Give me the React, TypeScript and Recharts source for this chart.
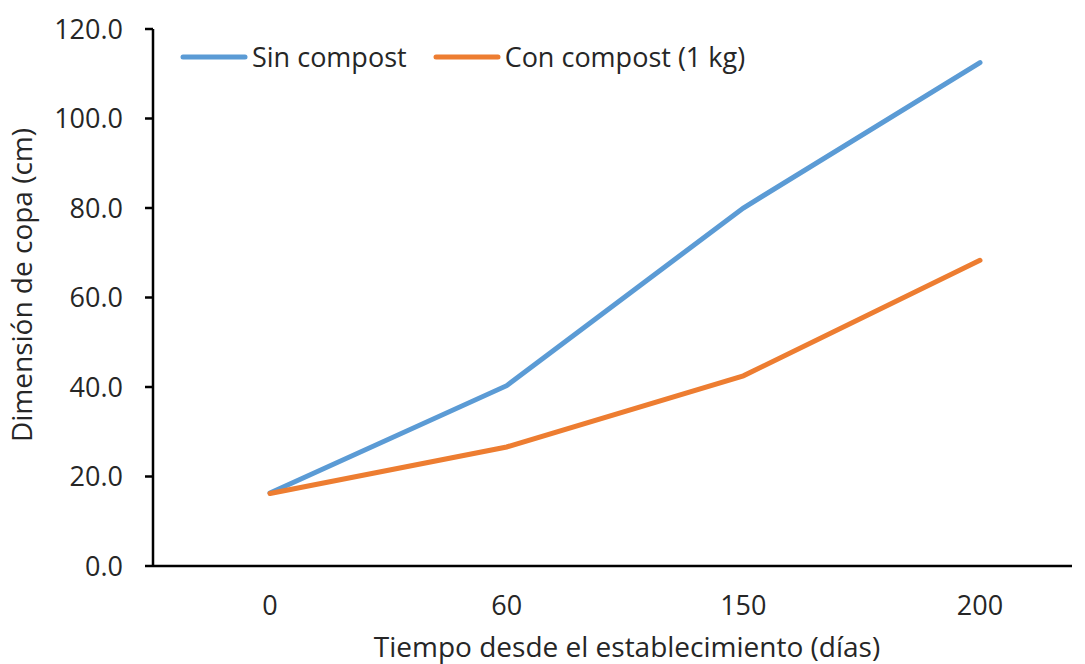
import { LineChart, Line, XAxis, YAxis, Legend, Label } from "recharts";

const dias = ["0", "60", "150", "200"];
const sinCompost = [16.3, 40.3, 80.0, 112.5];
const conCompost = [16.2, 26.6, 42.5, 68.3];
const yTicks = [0, 20, 40, 60, 80, 100, 120];
const legendOrder = ["Sin compost", "Con compost (1 kg)"];

const data = dias.map((d, i) => ({
  dia: d,
  sin: sinCompost[i],
  con: conCompost[i],
}));

const FONT = "'Open Sans', sans-serif";
const TEXT = "#262626";

const renderLegend = (props: any) => {
  const items = [...(props.payload || [])].sort(
    (a: any, b: any) => legendOrder.indexOf(a.value) - legendOrder.indexOf(b.value)
  );
  return (
    <div style={{ display: "flex", alignItems: "center", fontFamily: FONT, fontSize: 27, color: TEXT }}>
      {items.map((entry: any, index: number) => (
        <div key={index} style={{ display: "flex", alignItems: "center", marginRight: 26 }}>
          <svg width={68} height={10} style={{ marginRight: 4 }}>
            <line x1={3} y1={5} x2={65} y2={5} stroke={entry.color} strokeWidth={5} strokeLinecap="round" />
          </svg>
          <span>{entry.value}</span>
        </div>
      ))}
    </div>
  );
};

export default function App() {
  return (
    <div style={{ width: 1085, height: 664, background: "#fff" }}>
      <style>{`body{margin:0}`}</style>
      <LineChart width={1085} height={664} data={data} margin={{ top: 29, right: 13, bottom: 68, left: 0 }}>
        <XAxis
          dataKey="dia"
          height={30}
          padding={{ left: 117, right: 92 }}
          tickLine={false}
          tickSize={0}
          tickMargin={30}
          stroke="#000"
          strokeWidth={2.5}
          tick={{ fill: TEXT, fontSize: 27, fontFamily: FONT }}
        >
          <Label
            content={() => (
              <text x={627} y={650} textAnchor="middle" dominantBaseline="middle" fill={TEXT} fontSize={28} fontFamily={FONT}>
                Tiempo desde el establecimiento (días)
              </text>
            )}
          />
        </XAxis>
        <YAxis
          width={153}
          domain={[0, 120]}
          ticks={yTicks}
          interval={0}
          tickFormatter={(v: number) => v.toFixed(1)}
          tickSize={8}
          tickMargin={22}
          stroke="#000"
          strokeWidth={2.5}
          tick={{ fill: TEXT, fontSize: 27, fontFamily: FONT }}
        >
          <Label
            content={() => (
              <text
                x={25}
                y={285}
                transform="rotate(-90 25 285)"
                textAnchor="middle"
                dominantBaseline="middle"
                fill={TEXT}
                fontSize={28}
                fontFamily={FONT}
              >
                Dimensión de copa (cm)
              </text>
            )}
          />
        </YAxis>
        <Legend
          layout="horizontal"
          verticalAlign="middle"
          align="center"
          content={renderLegend}
          wrapperStyle={{ left: 180, top: 38, width: 800, height: 38 }}
        />
        <Line
          type="linear"
          dataKey="sin"
          name="Sin compost"
          stroke="#5B9BD5"
          strokeWidth={5}
          strokeLinecap="round"
          dot={false}
          activeDot={false}
          isAnimationActive={false}
        />
        <Line
          type="linear"
          dataKey="con"
          name="Con compost (1 kg)"
          stroke="#ED7D31"
          strokeWidth={5}
          strokeLinecap="round"
          dot={false}
          activeDot={false}
          isAnimationActive={false}
        />
      </LineChart>
    </div>
  );
}
